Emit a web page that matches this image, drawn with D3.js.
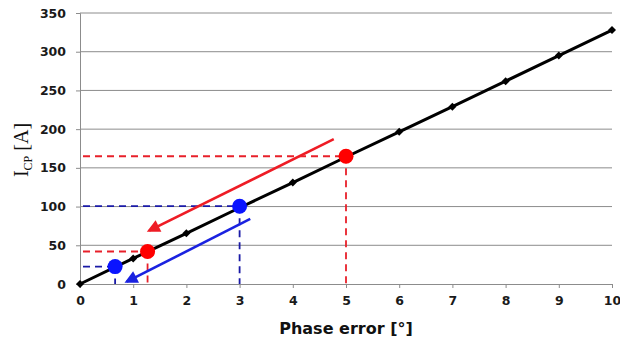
<!DOCTYPE html>
<html>
<head>
<meta charset="utf-8">
<script src="https://cdn.jsdelivr.net/npm/d3@7"></script>
<style>
  body { margin: 0; background: #fff; }
  .tick text { font-family: "DejaVu Sans", sans-serif; font-weight: bold; font-size: 12.5px; fill: #1a1a1a; }
</style>
</head>
<body>
<div id="chart"></div>
<script>
// phase error vs charge pump current
var phaseErr = [0, 1, 2, 3, 4, 5, 6, 7, 8, 9, 10]
var icp = [0, 33, 65.5, 98.5, 131, 164, 196.5, 229, 262, 295, 328]
var xTicks = [0, 1, 2, 3, 4, 5, 6, 7, 8, 9, 10]
var yTicks = [0, 50, 100, 150, 200, 250, 300, 350]
var bluePts = [[0.66, 22.5], [3, 100.5]]
var redPts = [[1.27, 42], [5, 165]]
// arrows: [x1, y1, x2, y2] start -> tip
var redArrow = [4.77, 187, 1.3, 69]
var blueArrow = [3.2, 84, 0.88, 3]

var W = 620, H = 346
var margin = {top: 13, right: 8, bottom: 62, left: 80}
var w = W - margin.left - margin.right
var h = H - margin.top - margin.bottom

var svg = d3.select('#chart').append('svg').attr('width', W).attr('height', H)
var defs = svg.append('defs')
function marker(id, color) {
  defs.append('marker').attr('id', id).attr('viewBox', '0 0 10 10')
    .attr('refX', 8).attr('refY', 5).attr('markerWidth', 5.5).attr('markerHeight', 5)
    .attr('orient', 'auto').attr('markerUnits', 'strokeWidth')
    .append('path').attr('d', 'M0,0 L10,5 L0,10 z').attr('fill', color)
}
marker('arrRed', '#ee1c25')
marker('arrBlue', '#1a22e0')

var g = svg.append('g').attr('transform', 'translate(' + margin.left + ',' + margin.top + ')')
var x = d3.scaleLinear().domain([0, 10]).range([0, w])
var y = d3.scaleLinear().domain([0, 350]).range([h, 0])

// grid
g.append('g').selectAll('line').data(yTicks.slice(1)).enter().append('line')
  .attr('x1', 0).attr('x2', w).attr('y1', function(d) { return y(d) }).attr('y2', function(d) { return y(d) })
  .attr('stroke', '#8c8c8c').attr('stroke-width', 1)

// axes
var yAxis = g.append('g').call(d3.axisLeft(y).tickValues(yTicks).tickSize(4).tickPadding(10))
var xAxis = g.append('g').attr('transform', 'translate(0,' + h + ')')
  .call(d3.axisBottom(x).tickValues(xTicks).tickSize(4).tickPadding(8))
svg.selectAll('.domain').attr('stroke', '#8c8c8c')
svg.selectAll('.tick line').attr('stroke', '#8c8c8c')
yAxis.select('.domain').attr('d', 'M-4,0.5H0.5V' + h)

// dashed guides
function guides(pts, color) {
  pts.forEach(function(p) {
    g.append('line').attr('x1', 3).attr('x2', x(p[0])).attr('y1', y(p[1])).attr('y2', y(p[1]))
      .attr('stroke', color).attr('stroke-width', 1.8).attr('stroke-dasharray', '7,5')
    g.append('line').attr('x1', x(p[0])).attr('x2', x(p[0])).attr('y1', y(p[1])).attr('y2', h)
      .attr('stroke', color).attr('stroke-width', 1.8).attr('stroke-dasharray', '7,5')
  })
}
guides(redPts, '#e8202a')
guides(bluePts, '#1a1aa6')

// main line
var data = phaseErr.map(function(d, i) { return [d, icp[i]] })
g.append('path').datum(data)
  .attr('d', d3.line().x(function(d) { return x(d[0]) }).y(function(d) { return y(d[1]) }))
  .attr('fill', 'none').attr('stroke', '#000').attr('stroke-width', 3)
g.selectAll('.dia').data(data).enter().append('path').attr('class', 'dia')
  .attr('transform', function(d) { return 'translate(' + x(d[0]) + ',' + y(d[1]) + ') rotate(45)' })
  .attr('d', d3.symbol().type(d3.symbolSquare).size(32)).attr('fill', '#000')

// arrows
function arrow(a, color, id) {
  g.append('line').attr('x1', x(a[0])).attr('y1', y(a[1])).attr('x2', x(a[2])).attr('y2', y(a[3]))
    .attr('stroke', color).attr('stroke-width', 2.6).attr('marker-end', 'url(#' + id + ')')
}
arrow(redArrow, '#ee1c25', 'arrRed')
arrow(blueArrow, '#1a22e0', 'arrBlue')

// points
g.selectAll('.rp').data(redPts).enter().append('circle')
  .attr('cx', function(d) { return x(d[0]) }).attr('cy', function(d) { return y(d[1]) })
  .attr('r', 7.5).attr('fill', '#ff0000')
g.selectAll('.bp').data(bluePts).enter().append('circle')
  .attr('cx', function(d) { return x(d[0]) }).attr('cy', function(d) { return y(d[1]) })
  .attr('r', 7.5).attr('fill', '#0a14ff')

// titles
svg.append('text').attr('x', margin.left + x(5)).attr('y', 334).attr('text-anchor', 'middle')
  .style('font-family', '"DejaVu Sans", sans-serif').style('font-weight', 'bold').style('font-size', '16px')
  .attr('fill', '#111').text('Phase error [°]')
var yt = svg.append('text').attr('transform', 'translate(28,150) rotate(-90)').attr('text-anchor', 'middle')
  .style('font-family', '"Liberation Serif", serif').style('font-size', '20px').attr('fill', '#111')
yt.append('tspan').text('I')
yt.append('tspan').attr('dy', 4).style('font-size', '12px').text('CP')
yt.append('tspan').attr('dy', -4).text(' [A]')
</script>
</body>
</html>
